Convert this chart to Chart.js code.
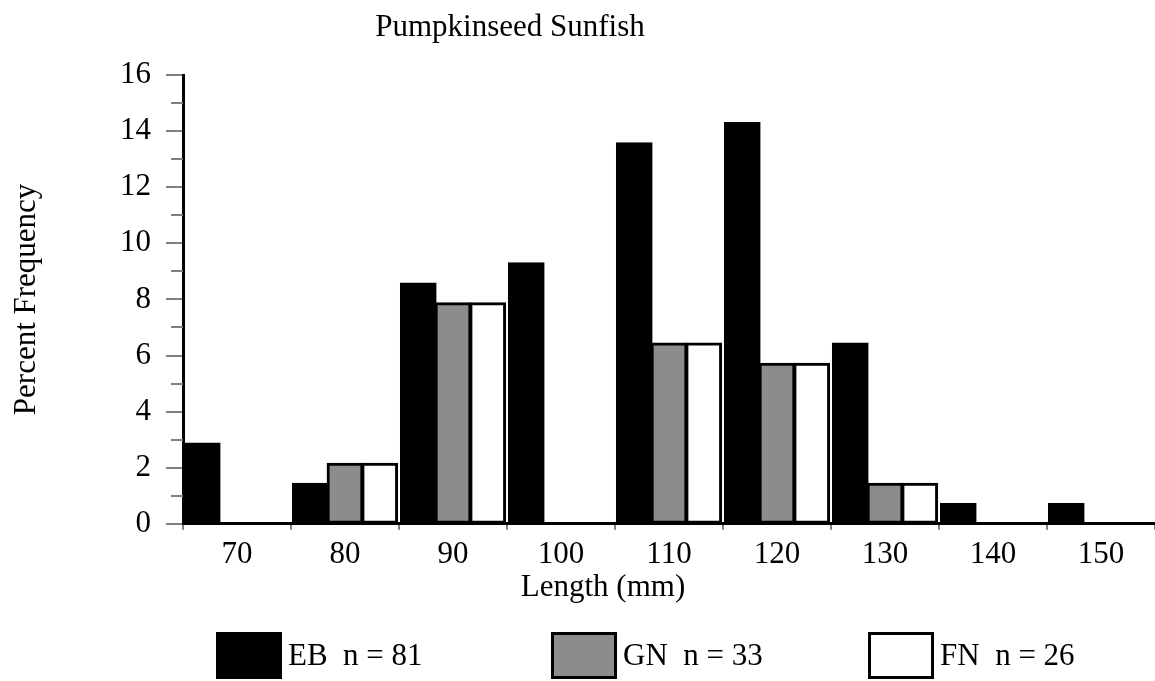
<!DOCTYPE html>
<html><head><meta charset="utf-8">
<script src="https://cdn.jsdelivr.net/npm/chart.js@4.4.1/dist/chart.umd.min.js"></script>
<style>html,body{margin:0;padding:0;background:#fff}#wrap{width:1155px;height:681px;position:relative}</style>
</head><body><div id="wrap"><canvas id="c"></canvas></div>
<script>
const categories = ['70','80','90','100','110','120','130','140','150'];
const ebValues = [2.86, 1.43, 8.57, 9.29, 13.57, 14.29, 6.43, 0.71, 0.71];
const gnValues = [0, 2.14, 7.86, 0, 6.43, 5.71, 1.43, 0, 0];
const fnValues = [0, 2.14, 7.86, 0, 6.43, 5.71, 1.43, 0, 0];
const seriesLabels = ['EB  n = 81', 'GN  n = 33', 'FN  n = 26'];
const yMinorTicks = [1, 3, 5, 7, 9, 11, 13, 15];
const chartTitle = 'Pumpkinseed Sunfish';
const xTitle = 'Length (mm)';
const yTitle = 'Percent Frequency';

const FONT = "'Liberation Serif','Times New Roman',serif";

const decor = {
  id: 'decor',
  afterDraw(chart) {
    const ctx = chart.ctx;
    const y = chart.scales.y;
    ctx.save();
    ctx.strokeStyle = '#808080';
    ctx.lineWidth = 2;
    yMinorTicks.forEach(v => {
      const py = Math.round(y.getPixelForValue(v));
      ctx.beginPath();
      ctx.moveTo(y.right - 12, py);
      ctx.lineTo(y.right, py);
      ctx.stroke();
    });
    ctx.fillStyle = '#000';
    ctx.textBaseline = 'middle';
    ctx.textAlign = 'center';
    ctx.font = "31px " + FONT;
    ctx.fillText(chartTitle, 510, 28);
    ctx.fillText(xTitle, 603, 588);
    const boxX = [216, 551, 868];
    chart.data.datasets.forEach((ds, i) => {
      const bx = boxX[i], by = 632, bw = 66, bh = 47;
      ctx.fillStyle = '#000';
      ctx.fillRect(bx, by, bw, bh);
      ctx.fillStyle = ds.backgroundColor;
      ctx.fillRect(bx + 3, by + 3, bw - 6, bh - 6);
      ctx.fillStyle = '#000';
      ctx.textAlign = 'left';
      ctx.fillText(ds.label, bx + bw + 6, by + bh / 2 + 1);
    });
    ctx.restore();
  }
};

const barCommon = {borderColor: '#000', borderWidth: 3, borderSkipped: false, inflateAmount: 1, categoryPercentage: 0.965, barPercentage: 1.0};

new Chart(document.getElementById('c'), {
  type: 'bar',
  data: {
    labels: categories,
    datasets: [
      Object.assign({label: seriesLabels[0], data: ebValues, backgroundColor: '#000000'}, barCommon),
      Object.assign({label: seriesLabels[1], data: gnValues, backgroundColor: '#8c8c8c'}, barCommon),
      Object.assign({label: seriesLabels[2], data: fnValues, backgroundColor: '#ffffff'}, barCommon)
    ]
  },
  options: {
    responsive: true,
    maintainAspectRatio: false,
    animation: false,
    layout: {padding: {top: 75, bottom: 102, left: 0, right: 0}},
    plugins: {legend: {display: false}, title: {display: false}, tooltip: {enabled: false}},
    scales: {
      x: {
        offset: true,
        grid: {drawOnChartArea: false, drawTicks: true, tickLength: 6, color: '#808080', lineWidth: 2},
        border: {display: true, color: '#000', width: 3},
        ticks: {color: '#000', font: {family: FONT, size: 31}, padding: 6}
      },
      y: {
        min: 0, max: 16,
        afterFit(scale) { scale.width = 183; },
        grid: {drawOnChartArea: false, drawTicks: true, tickLength: 17, color: '#808080', lineWidth: 2},
        border: {display: true, color: '#000', width: 3},
        ticks: {stepSize: 2, color: '#000', font: {family: FONT, size: 31}, padding: 15},
        title: {display: true, text: yTitle, color: '#000', font: {family: FONT, size: 31}, padding: {top: 8, bottom: 0}}
      }
    }
  },
  plugins: [decor]
});
</script></body></html>
